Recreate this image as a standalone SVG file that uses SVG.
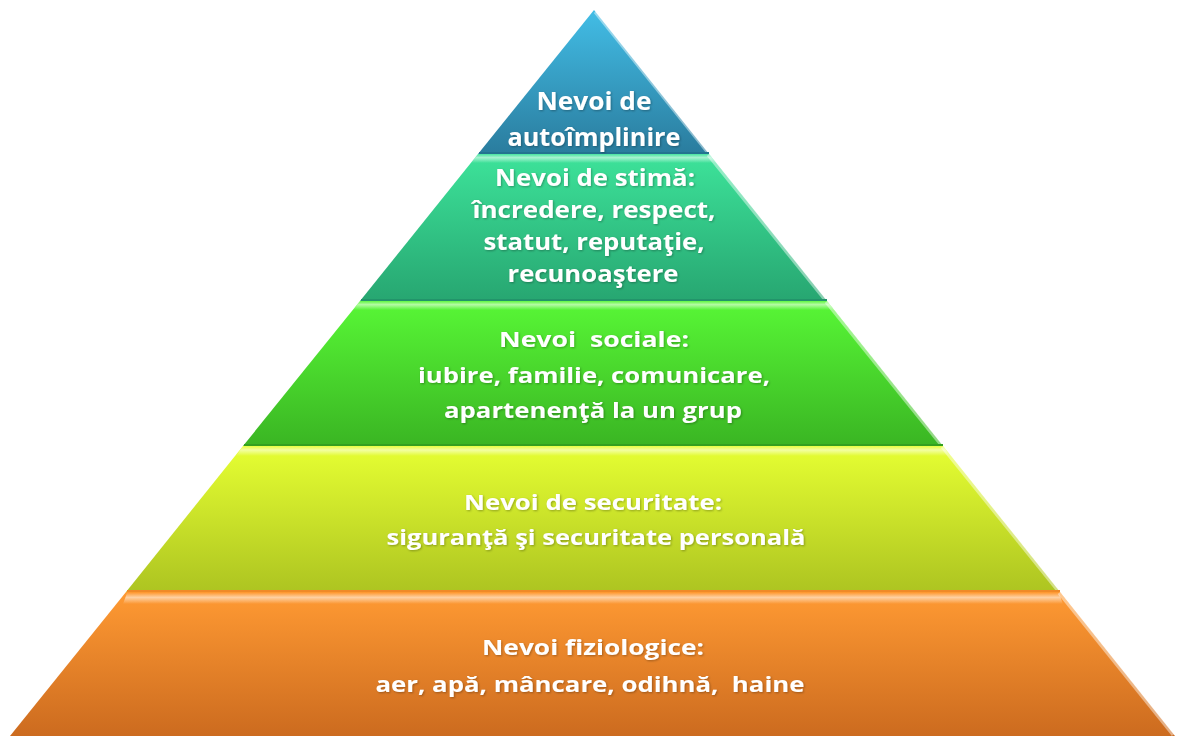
<svg xmlns="http://www.w3.org/2000/svg" width="1180" height="738" viewBox="0 0 1180 738">
<defs>
<linearGradient id="g1" x1="0" y1="0" x2="0" y2="1"><stop offset="0" stop-color="#42bde6"/><stop offset="1" stop-color="#2a7c9e"/></linearGradient>
<linearGradient id="g2" x1="0" y1="0" x2="0" y2="1"><stop offset="0" stop-color="#3de39a"/><stop offset="1" stop-color="#27a671"/></linearGradient>
<linearGradient id="g3" x1="0" y1="0" x2="0" y2="1"><stop offset="0" stop-color="#58f736"/><stop offset="1" stop-color="#3ab523"/></linearGradient>
<linearGradient id="g4" x1="0" y1="0" x2="0" y2="1"><stop offset="0" stop-color="#e6ff32"/><stop offset="1" stop-color="#adc421"/></linearGradient>
<linearGradient id="g5" x1="0" y1="0" x2="0" y2="1"><stop offset="0" stop-color="#ff9a33"/><stop offset="1" stop-color="#cc6b1f"/></linearGradient>
<linearGradient id="bev" x1="0" y1="0" x2="0" y2="1"><stop offset="0" stop-color="#ffffff" stop-opacity="0.05"/><stop offset="0.4" stop-color="#ffffff" stop-opacity="0.55"/><stop offset="1" stop-color="#ffffff" stop-opacity="0"/></linearGradient>
<filter id="ts" x="-10%" y="-30%" width="120%" height="160%"><feDropShadow dx="1" dy="1" stdDeviation="1" flood-color="#000" flood-opacity="0.3"/></filter>
</defs>
<style>
.lbl{font-family:"Open Sans","Liberation Sans",sans-serif;font-weight:bold;fill:#ffffff;text-anchor:middle;filter:url(#ts)}
.bevel{fill:url(#bev)}
.edge{stroke:#ffffff;stroke-opacity:0.45;stroke-width:3;fill:none}
.sep{stroke-width:2;fill:none}
</style>
<g id="tier1">
<polygon points="594,10 709,154 478,154" fill="url(#g1)"/>
<line class="edge" x1="595" y1="12" x2="708" y2="153"/>
<line class="sep" x1="479" y1="153" x2="709" y2="153" stroke="#237390"/>
<text class="lbl" x="594" y="110" font-size="25" textLength="115" lengthAdjust="spacingAndGlyphs">Nevoi de</text>
<text class="lbl" x="594" y="146" font-size="25" textLength="173" lengthAdjust="spacingAndGlyphs">autoîmplinire</text>
</g>
<g id="tier2">
<polygon points="478,154 709,154 827,301 360,301" fill="url(#g2)"/>
<polygon class="bevel" points="478,154 709,154 716,163 471,163"/>
<line class="edge" x1="708" y1="155" x2="825" y2="300"/>
<line class="sep" x1="361" y1="300" x2="827" y2="300" stroke="#22946a"/>
<text class="lbl" x="595" y="186" font-size="23" textLength="200" lengthAdjust="spacingAndGlyphs">Nevoi de stimă:</text>
<text class="lbl" x="594" y="218" font-size="23" textLength="243" lengthAdjust="spacingAndGlyphs">încredere, respect,</text>
<text class="lbl" x="594" y="250" font-size="23" textLength="221" lengthAdjust="spacingAndGlyphs">statut, reputaţie,</text>
<text class="lbl" x="593" y="282" font-size="23" textLength="171" lengthAdjust="spacingAndGlyphs">recunoaştere</text>
</g>
<g id="tier3">
<polygon points="360,301 827,301 943,446 243,446" fill="url(#g3)"/>
<polygon class="bevel" points="360,301 827,301 834,310 353,310"/>
<line class="edge" x1="826" y1="302" x2="941" y2="445"/>
<line class="sep" x1="244" y1="445" x2="943" y2="445" stroke="#33a01f"/>
<text class="lbl" x="594" y="347" font-size="22" textLength="190" lengthAdjust="spacingAndGlyphs" xml:space="preserve">Nevoi  sociale:</text>
<text class="lbl" x="594" y="383" font-size="22" textLength="352" lengthAdjust="spacingAndGlyphs">iubire, familie, comunicare,</text>
<text class="lbl" x="593" y="418" font-size="22" textLength="298" lengthAdjust="spacingAndGlyphs">apartenenţă la un grup</text>
</g>
<g id="tier4">
<polygon points="243,446 943,446 1060,592 126,592" fill="url(#g4)"/>
<polygon class="bevel" points="243,446 943,446 950,456 236,456"/>
<line class="edge" x1="942" y1="447" x2="1058" y2="591"/>
<line class="sep" x1="127" y1="591" x2="1060" y2="591" stroke="#f08a28"/>
<text class="lbl" x="593" y="510" font-size="22" textLength="258" lengthAdjust="spacingAndGlyphs">Nevoi de securitate:</text>
<text class="lbl" x="596" y="545" font-size="22" textLength="419" lengthAdjust="spacingAndGlyphs">siguranţă şi securitate personală</text>
</g>
<g id="tier5">
<polygon points="126,592 1060,592 1175,736 10,736" fill="url(#g5)"/>
<polygon class="bevel" points="127,593 1059,593 1063,604 123,604"/>
<line class="edge" x1="1059" y1="593" x2="1173" y2="735"/>
<text class="lbl" x="593" y="655" font-size="22" textLength="222" lengthAdjust="spacingAndGlyphs">Nevoi fiziologice:</text>
<text class="lbl" x="590" y="692" font-size="22" textLength="429" lengthAdjust="spacingAndGlyphs" xml:space="preserve">aer, apă, mâncare, odihnă,  haine</text>
</g>
<g id="connectors"/>
</svg>
